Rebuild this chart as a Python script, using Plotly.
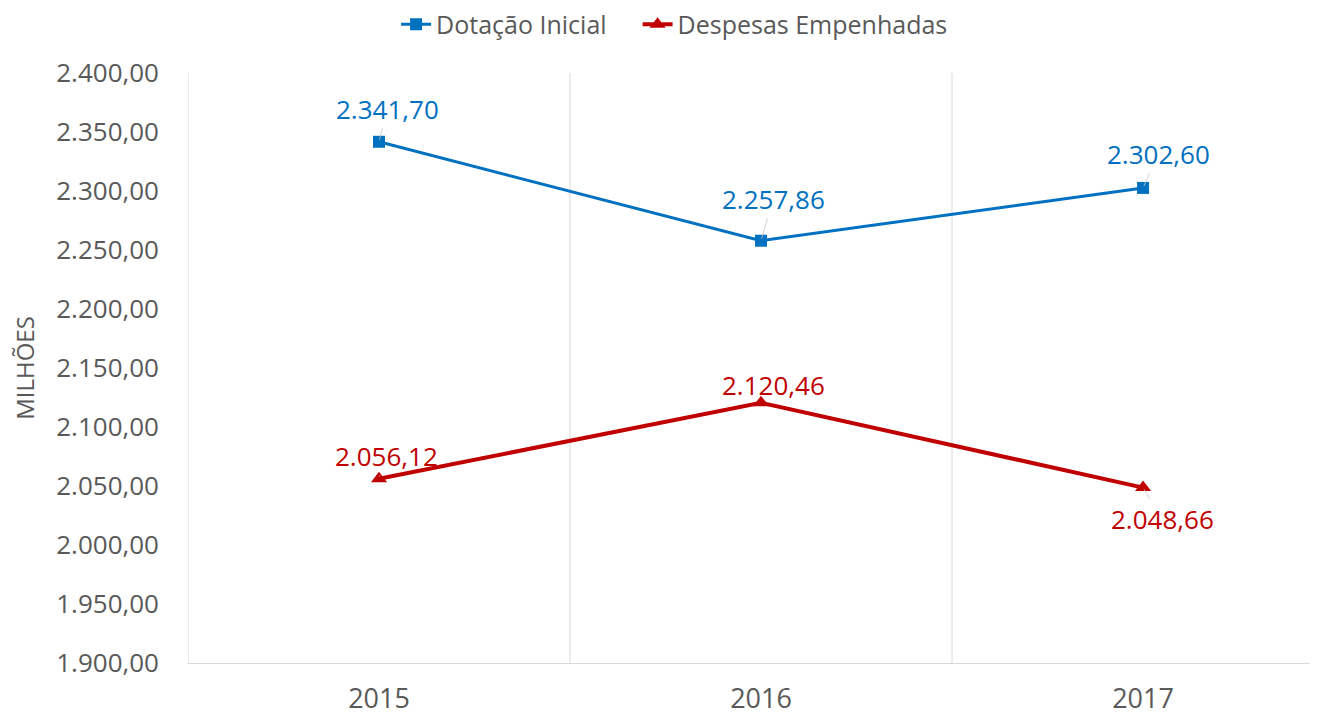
import plotly.graph_objects as go

anos = ["2015", "2016", "2017"]
dotacao_inicial = [2341.70, 2257.86, 2302.60]
despesas_empenhadas = [2056.12, 2120.46, 2048.66]

# label offsets (pixels) for the data labels, Excel-like placement
offs_dotacao = [(8, -33), (12, -42), (15, -34)]
offs_despesas = [(7, -23), (12, -18), (19, 31)]

AZUL = "#0070C0"
VERMELHO = "#C00000"
CINZA = "#595959"
FONTE = "Open Sans"

x = list(range(len(anos)))

fig = go.Figure()
fig.add_trace(go.Scatter(
    x=x, y=dotacao_inicial, name="Dotação Inicial\u00a0\u00a0\u00a0\u00a0", mode="lines+markers",
    line=dict(color=AZUL, width=3),
    marker=dict(symbol="square", size=12, color=AZUL),
))
fig.add_trace(go.Scatter(
    x=x, y=despesas_empenhadas, name="Despesas Empenhadas", mode="lines+markers",
    line=dict(color=VERMELHO, width=4),
    marker=dict(symbol="triangle-up", size=14, color=VERMELHO),
))


def fmt(v):
    s = f"{v:,.2f}"
    return s.replace(",", "X").replace(".", ",").replace("X", ".")


for serie, offs, cor in [(dotacao_inicial, offs_dotacao, AZUL),
                         (despesas_empenhadas, offs_despesas, VERMELHO)]:
    for i, v in enumerate(serie):
        dx, dy = offs[i]
        fig.add_annotation(
            x=x[i], y=v, text=fmt(v), showarrow=True, ax=dx, ay=dy,
            arrowhead=0, arrowwidth=0.8, arrowcolor="#c8c8c8", standoff=2,
            font=dict(family=FONTE, size=26, color=cor),
        )

# page body adds an 8px offset, margins below account for it
fig.update_layout(
    width=1320, height=714,
    margin=dict(l=180, r=18, t=65, b=59, autoexpand=False),
    paper_bgcolor="white", plot_bgcolor="white",
    separators=",.",
    font=dict(family=FONTE, color=CINZA),
    showlegend=True,
    legend=dict(
        orientation="h", xref="container", yref="container",
        x=0.505, xanchor="center", y=0.977, yanchor="middle",
        font=dict(family=FONTE, size=25, color=CINZA),
        itemwidth=30, tracegroupgap=0,
    ),
    xaxis=dict(
        range=[-0.5, 2.437], tickvals=x, ticktext=anos,
        showgrid=False, zeroline=False, automargin=False,
        showline=True, linecolor="#d9d9d9", linewidth=1,
        tickfont=dict(family=FONTE, size=27, color=CINZA),
        ticks="", ticklabelstandoff=12,
    ),
    yaxis=dict(
        range=[1900, 2400], dtick=50, tickformat=",.2f",
        showgrid=False, zeroline=False, showline=False, automargin=False,
        tickfont=dict(family=FONTE, size=26, color=CINZA),
        ticklabelstandoff=28,
        title=dict(text="MILHÕES", font=dict(family=FONTE, size=24, color=CINZA), standoff=23),
    ),
)

# vertical separators between categories (Excel category gridlines)
for b in [-0.5, 0.5, 1.5]:
    fig.add_shape(type="line", xref="x", yref="paper", x0=b, x1=b, y0=0, y1=1,
                  line=dict(color="#d9d9d9", width=1), layer="below")

fig.write_html("out.html")
